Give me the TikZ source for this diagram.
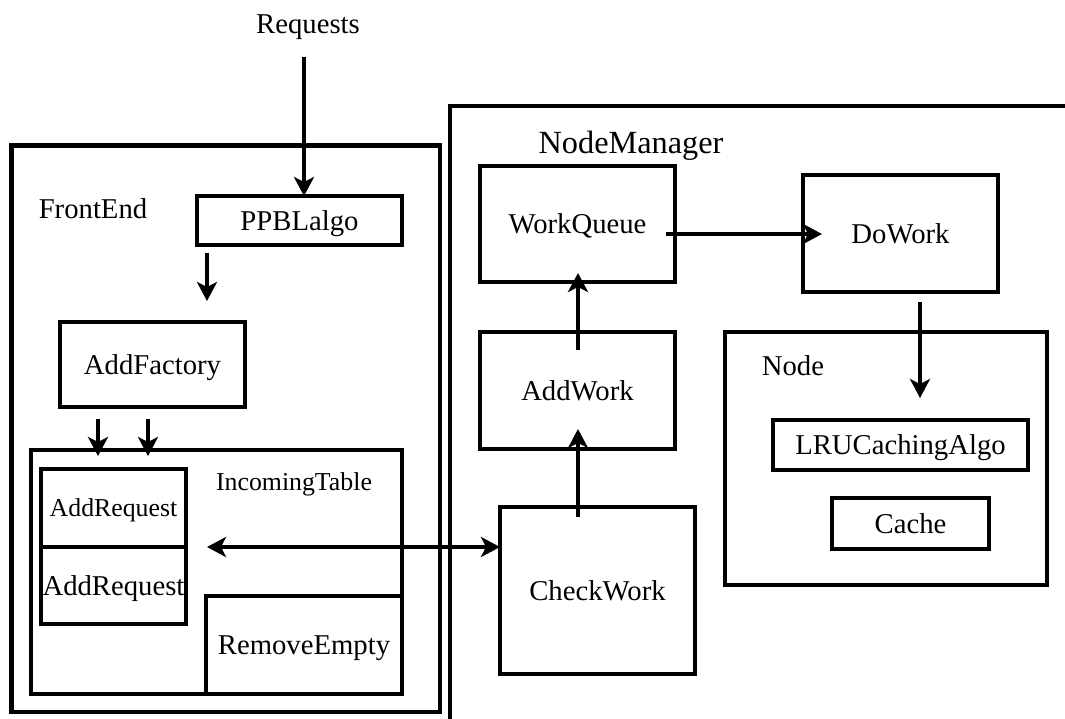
\documentclass[tikz,border=0pt]{standalone}
\usepackage{fontspec}
\setmainfont{Liberation Serif}
\usetikzlibrary{arrows.meta,calc}
\tikzset{
  box/.style={draw=black, line width=4.6pt, rectangle, inner sep=0pt, outer sep=0pt, text depth=0pt, font=\fontsize{28.7}{34}\selectfont},
  frame/.style={draw=black, line width=4.6pt, rectangle, inner sep=0pt, outer sep=0pt},
  lbl/.style={anchor=base, inner sep=0pt, font=\fontsize{28.7}{34}\selectfont},
  smalltxt/.style={font=\fontsize{25.8}{30}\selectfont},
  bigtxt/.style={font=\fontsize{32.3}{38}\selectfont},
  arr/.style={line width=4.8pt, -{Stealth[length=19pt,width=20pt,inset=5pt]}},
  darr/.style={line width=4.8pt, {Stealth[length=19pt,width=20pt,inset=5pt]}-{Stealth[length=19pt,width=20pt,inset=5pt]}}
}
\begin{document}
\begin{tikzpicture}[x=1pt,y=-1pt]
\useasboundingbox[fill=white] (0,0) rectangle (1065,718);
% containers
\node[frame, minimum width=428.5pt, minimum height=566.5pt] (fe) at (225.75,428.75) {};
\node[frame, minimum width=617pt, minimum height=624pt] (nm) at (758.5,418) {};
\node[frame, minimum width=371pt, minimum height=244pt] (it) at (216.5,572) {};
\node[frame, minimum width=322pt, minimum height=253pt] (nd) at (886,458.5) {};
% labels
\node[lbl] (req) at (308,33) {Requests};
\node[lbl] (felbl) at (93,218) {FrontEnd};
\node[lbl, smalltxt] (itlbl) at (294,490) {IncomingTable};
\node[lbl, bigtxt] (nmlbl) at (631,153) {NodeManager};
\node[lbl] (ndlbl) at (793,375) {Node};
% boxes
\node[box, minimum width=205pt, minimum height=49pt] (ppbl) at (299.5,220.5) {PPBLalgo};
\node[box, minimum width=185pt, minimum height=85pt] (af) at (152.5,364.5) {AddFactory};
\node[box, smalltxt, minimum width=145pt, minimum height=78pt] (ar1) at (113.5,508) {AddRequest};
\node[box, minimum width=145pt, minimum height=77pt] (ar2) at (113.5,585.5) {AddRequest};
\node[box, minimum width=196pt, minimum height=98pt] (re) at (304,645) {RemoveEmpty};
\node[box, minimum width=195pt, minimum height=116pt] (wq) at (577.5,224) {WorkQueue};
\node[box, minimum width=195pt, minimum height=117pt] (aw) at (577.5,390.5) {AddWork};
\node[box, minimum width=195pt, minimum height=167pt] (cw) at (597.5,590.5) {CheckWork};
\node[box, minimum width=195pt, minimum height=117pt] (dw) at (900.5,233.5) {DoWork};
\node[box, minimum width=255pt, minimum height=50pt] (lru) at (900.5,445) {LRUCachingAlgo};
\node[box, minimum width=157pt, minimum height=51pt] (ca) at (910.5,523.5) {Cache};
% connectors
\coordinate (rq) at (304,57);
\draw[arr] (rq) -- (rq |- ppbl.north);
\draw[arr] ($(ppbl.south west)+(10,8)$) -- ($(af.north west)+(147,-21)$);
\draw[arr] ($(af.south west)+(38,12)$) -- ($(it.north west)+(67,6)$);
\draw[arr] ($(af.south west)+(88,12)$) -- ($(it.north west)+(117,6)$);
\coordinate (dl) at ($(ar1.south east)+(21,0)$);
\draw[darr] (dl) -- (dl -| cw.west);
\draw[arr] ($(wq.east)+(-9,10)$) -- ($(dw.west)+(19,0.5)$);
\draw[arr] ($(aw.north)+(0.5,18)$) -- ($(wq.south)+(0.5,-9)$);
\draw[arr] ($(cw.north)+(-19.5,10)$) -- ($(aw.south)+(0.5,-20)$);
\draw[arr] ($(dw.south)+(19.5,10)$) -- ($(nd.north)+(34,66)$);
\end{tikzpicture}
\end{document}
